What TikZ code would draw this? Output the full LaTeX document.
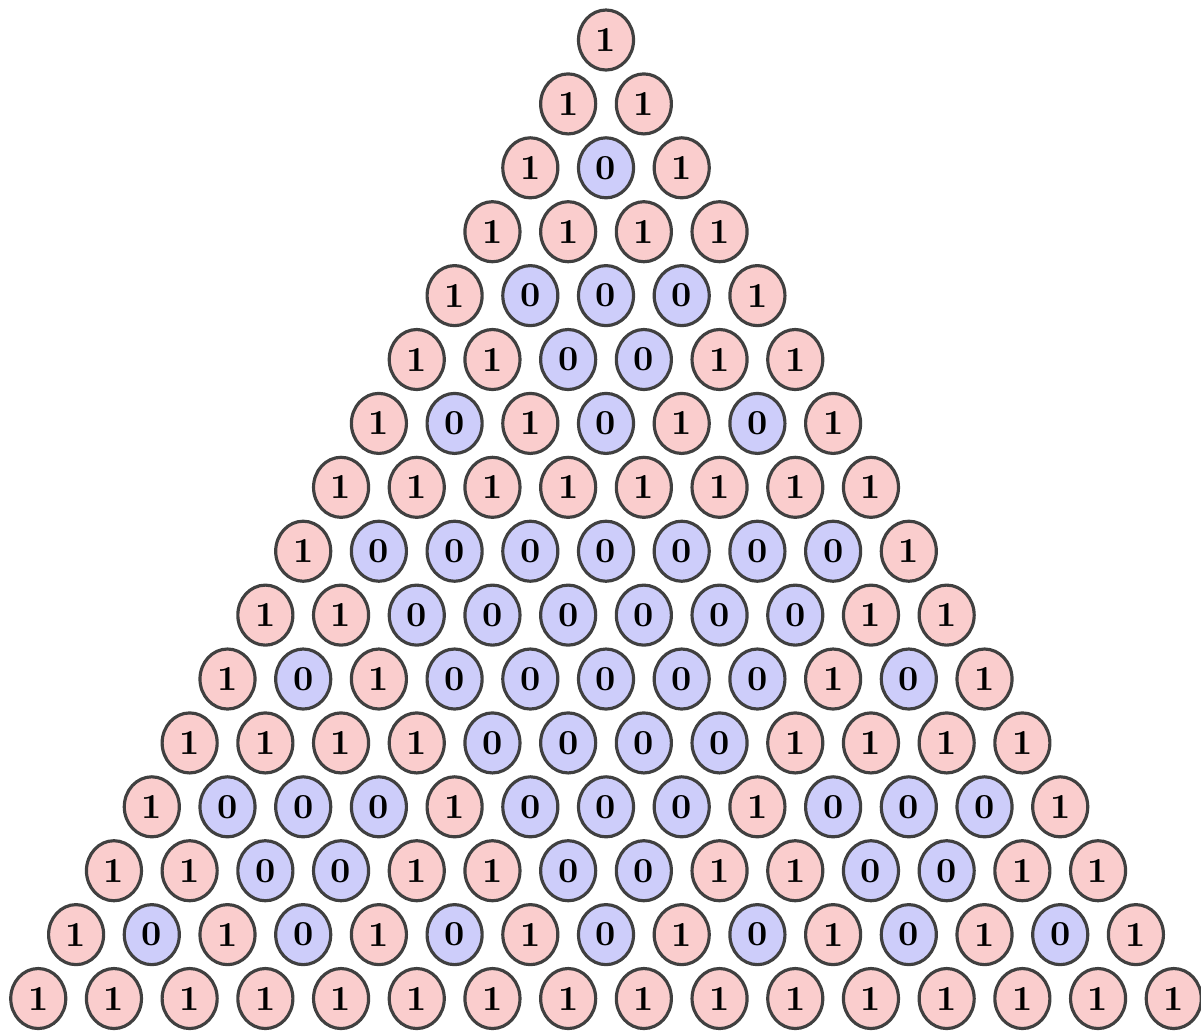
\documentclass[tikz,border=0pt]{standalone}
\usetikzlibrary{shapes.geometric}

\definecolor{onefill}{RGB}{250,205,205}
\definecolor{zerofill}{RGB}{205,205,250}

\begin{document}
\begin{tikzpicture}[x=0.01cm, y=-0.01cm,
        bit/.style = {draw=black!75, line width=0.9pt, ellipse, inner sep=0pt,
                      minimum width=0.55cm, minimum height=0.6cm,
                      font=\fontsize{10}{12}\selectfont\bfseries},
        bit1/.style = {bit, fill=onefill},
        bit0/.style = {bit, fill=zerofill}]

    \useasboundingbox (0,0) rectangle (1201,1032);

    % rows of the triangle, mod 2
    \foreach \row [count=\n from 0] in {{1},{1,1},{1,0,1},{1,1,1,1},{1,0,0,0,1},
            {1,1,0,0,1,1},{1,0,1,0,1,0,1},{1,1,1,1,1,1,1,1},{1,0,0,0,0,0,0,0,1},
            {1,1,0,0,0,0,0,0,1,1},{1,0,1,0,0,0,0,0,1,0,1},{1,1,1,1,0,0,0,0,1,1,1,1},
            {1,0,0,0,1,0,0,0,1,0,0,0,1},{1,1,0,0,1,1,0,0,1,1,0,0,1,1},
            {1,0,1,0,1,0,1,0,1,0,1,0,1,0,1},{1,1,1,1,1,1,1,1,1,1,1,1,1,1,1,1}}
    {
        \foreach \v [count=\k from 0] in \row
            \node[bit\v] (n\n-\k) at ({606 + (2*\k - \n)*37.85}, {40 + \n*63.9}) {\v};
    }

\end{tikzpicture}
\end{document}
